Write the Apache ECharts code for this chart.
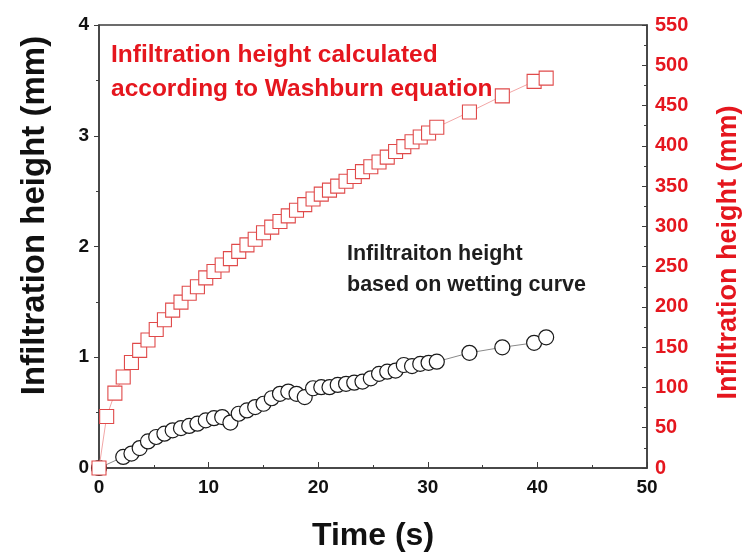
<!DOCTYPE html>
<html>
<head>
<meta charset="utf-8">
<title>Infiltration height vs time</title>
<script src="https://cdn.jsdelivr.net/npm/echarts@6/dist/echarts.min.js"></script>
<style>
  html, body { margin: 0; padding: 0; background: #fff; overflow: hidden; }
  #chart { width: 742px; height: 556px; }
</style>
</head>
<body>
<div id="chart"></div>
<script>
// Sampling times (s) shared by both series
const timeS = [
  0, 0.70, 1.45, 2.21, 2.96, 3.71, 4.47, 5.22, 5.97, 6.72, 7.48,
  8.23, 8.98, 9.74, 10.49, 11.24, 11.99, 12.75, 13.50, 14.25, 15.01,
  15.76, 16.51, 17.27, 18.02, 18.77, 19.53, 20.28, 21.03, 21.78, 22.54,
  23.29, 24.04, 24.80, 25.55, 26.30, 27.06, 27.81, 28.56, 29.31, 30.07,
  30.82, 33.8, 36.8, 39.7, 40.8
];

// Infiltration height from the wetting curve (mm, left axis); null = not sampled
const wettingMm = [
  0, null, null, 0.10, 0.13, 0.18, 0.24, 0.28, 0.31, 0.34, 0.36,
  0.38, 0.40, 0.43, 0.45, 0.46, 0.41, 0.49, 0.52, 0.55, 0.58,
  0.63, 0.67, 0.69, 0.67, 0.64, 0.72, 0.73, 0.73, 0.75, 0.76,
  0.77, 0.78, 0.81, 0.85, 0.87, 0.88, 0.93, 0.92, 0.94, 0.95,
  0.96, 1.04, 1.09, 1.13, 1.18
];

// Infiltration height from the Washburn equation (mm, right axis)
const washburnMm = [
  0, 64, 93, 113, 131, 146, 159, 172, 184, 196, 206,
  217, 225, 236, 244, 252, 260, 269, 277, 284, 292,
  299, 306, 313, 320, 327, 334, 340, 345, 350, 356,
  362, 368, 374, 380, 386, 393, 399, 405, 411, 416,
  423, 442, 462, 480, 484
];

// Axis ranges and tick steps
const xRange = [0, 50, 10];
const leftRange = [0, 4, 1];
const rightRange = [0, 550, 50];

const RED = '#e5161e';
const AXIS = '#3c3c3c';
const FONT = '"Liberation Sans", Arial, sans-serif';

function pairs(xs, ys) {
  const out = [];
  xs.forEach((x, i) => { if (ys[i] !== null) out.push([x, ys[i]]); });
  return out;
}

const chart = echarts.init(document.getElementById('chart'), null, {
  renderer: 'canvas', width: 742, height: 556
});

const tickLabel = (color, size) => ({
  color: color, fontFamily: FONT, fontWeight: 'bold', fontSize: size
});

chart.setOption({
  animation: false,
  backgroundColor: '#fff',
  grid: {
    left: 99, right: 95, top: 25, bottom: 88,
    containLabel: false,
    outerBoundsMode: 'none',
    show: true, borderColor: AXIS, borderWidth: 1.5, backgroundColor: 'transparent'
  },
  xAxis: {
    type: 'value',
    min: xRange[0], max: xRange[1], interval: xRange[2],
    name: 'Time (s)',
    nameLocation: 'middle',
    nameGap: 52,
    nameTextStyle: { fontFamily: FONT, fontWeight: 'bold', fontSize: 32, color: '#111' },
    axisLine: { lineStyle: { color: AXIS, width: 1.5 } },
    axisTick: { inside: true, length: 6, lineStyle: { color: AXIS } },
    minorTick: { show: true, splitNumber: 2, length: 3, lineStyle: { color: AXIS } },
    splitLine: { show: false },
    axisLabel: Object.assign({ margin: 10 }, tickLabel('#111', 19))
  },
  yAxis: [
    {
      type: 'value',
      position: 'left',
      min: leftRange[0], max: leftRange[1], interval: leftRange[2],
      name: 'Infiltration height (mm)',
      nameLocation: 'middle',
      nameRotate: 90,
      nameGap: 48,
      nameTextStyle: {
        fontFamily: FONT, fontWeight: 'bold', fontSize: 33, color: '#111',
        padding: [0, 0, 0, 62]
      },
      axisLine: { show: true, lineStyle: { color: AXIS, width: 1.5 } },
      axisTick: { show: true, inside: false, length: 5, lineStyle: { color: AXIS } },
      minorTick: { show: true, splitNumber: 2, length: 3, lineStyle: { color: AXIS } },
      splitLine: { show: false },
      axisLabel: Object.assign({ margin: 10 }, tickLabel('#111', 19))
    },
    {
      type: 'value',
      position: 'right',
      min: rightRange[0], max: rightRange[1], interval: rightRange[2],
      name: 'Infiltration height (mm)',
      nameLocation: 'middle',
      nameRotate: 90,
      nameGap: 68,
      nameTextStyle: {
        fontFamily: FONT, fontWeight: 'bold', fontSize: 27, color: RED,
        padding: [0, 12, 0, 0]
      },
      axisLine: { show: true, lineStyle: { color: AXIS, width: 1.5 } },
      axisTick: { show: true, inside: true, length: 5, lineStyle: { color: AXIS } },
      minorTick: { show: true, splitNumber: 2, length: 3, lineStyle: { color: AXIS } },
      splitLine: { show: false },
      axisLabel: Object.assign({ margin: 8 }, tickLabel(RED, 20))
    }
  ],
  series: [
    {
      name: 'Infiltraiton height based on wetting curve',
      type: 'line',
      yAxisIndex: 0,
      data: pairs(timeS, wettingMm),
      symbol: 'circle',
      symbolSize: 15,
      itemStyle: { color: '#fff', borderColor: '#1a1a1a', borderWidth: 1.2 },
      lineStyle: { color: '#8a8a8a', width: 1 },
      z: 2
    },
    {
      name: 'Infiltration height calculated according to Washburn equation',
      type: 'line',
      yAxisIndex: 1,
      data: pairs(timeS, washburnMm),
      symbol: 'rect',
      symbolSize: 14,
      itemStyle: { color: '#fff', borderColor: '#e04a4a', borderWidth: 1.1 },
      lineStyle: { color: '#f2a6a6', width: 1 },
      z: 3
    }
  ],
  graphic: [
    {
      type: 'text', left: 111, top: 38, z: 10,
      style: {
        text: 'Infiltration height calculated\naccording to Washburn equation',
        fill: RED, fontFamily: FONT, fontWeight: 'bold', fontSize: 24.5, lineHeight: 34
      }
    },
    {
      type: 'text', left: 347, top: 239, z: 10,
      style: {
        text: 'Infiltraiton height\nbased on wetting curve',
        fill: '#1e1e1e', fontFamily: FONT, fontWeight: 'bold', fontSize: 21.5, lineHeight: 31
      }
    }
  ]
});
</script>
</body>
</html>
